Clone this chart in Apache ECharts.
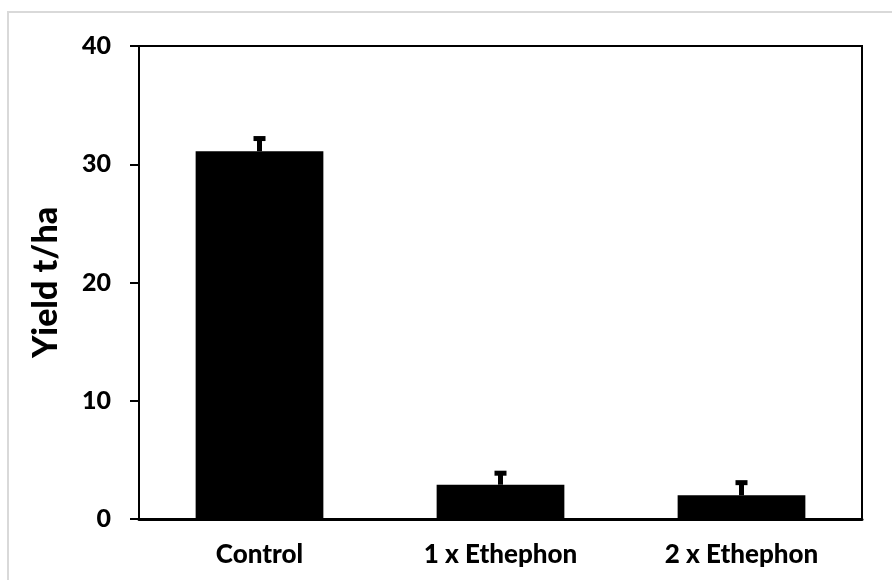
<!DOCTYPE html>
<html>
<head>
<meta charset="utf-8">
<script src="https://cdn.jsdelivr.net/npm/echarts@6/dist/echarts.min.js"></script>
<style>html,body{margin:0;padding:0;background:#fff}#c{width:892px;height:580px}</style>
</head>
<body>
<div id="c"></div>
<script>
var categories = ['Control', '1 x Ethephon', '2 x Ethephon'];
var yieldValues = [31.1, 2.9, 2.0];
var yieldErrors = [1.2, 1.1, 1.2];
var yTicks = { min: 0, max: 40, interval: 10 };

var chart = echarts.init(document.getElementById('c'));
var errData = categories.map(function (c, i) { return [i, yieldValues[i], yieldValues[i] + yieldErrors[i]]; });
var FONT = 'Lato';
var W = 900;
chart.setOption({
  animation: false,
  graphic: [{
    type: 'rect', shape: { x: 8, y: 12, width: 1000, height: 700 },
    style: { fill: 'none', stroke: '#d9d9d9', lineWidth: 2 }, z: -10
  }],
  grid: { left: 139, right: 30, top: 46, bottom: 61, show: true, borderColor: '#000', borderWidth: 2, backgroundColor: 'transparent' },
  xAxis: {
    type: 'category', data: categories,
    axisLine: { lineStyle: { color: '#000', width: 3 } },
    axisTick: { show: false },
    axisLabel: { color: '#000', fontFamily: FONT, fontWeight: W, fontSize: 26, margin: 23 }
  },
  yAxis: {
    type: 'value', min: yTicks.min, max: yTicks.max, interval: yTicks.interval,
    name: 'Yield t/ha', nameLocation: 'middle', nameGap: 76,
    nameTextStyle: { color: '#000', fontFamily: FONT, fontWeight: W, fontSize: 34 },
    axisLine: { show: true, lineStyle: { color: '#000', width: 2 } },
    axisTick: { show: true, length: 9, lineStyle: { color: '#000', width: 2 } },
    splitLine: { show: false },
    axisLabel: { color: '#000', fontFamily: FONT, fontWeight: W, fontSize: 25, margin: 28 }
  },
  series: [{
    type: 'bar', data: yieldValues, barWidth: '53%',
    itemStyle: { color: '#000' }
  }, {
    type: 'custom', data: errData, z: 10,
    renderItem: function (params, api) {
      var x = api.value(0);
      var p0 = api.coord([x, api.value(1)]);
      var p1 = api.coord([x, api.value(2)]);
      return {
        type: 'group', children: [
          { type: 'rect', shape: { x: p0[0] - 2.5, y: p1[1], width: 5, height: p0[1] - p1[1] }, style: { fill: '#000' } },
          { type: 'rect', shape: { x: p0[0] - 6, y: p1[1] - 1, width: 12, height: 5 }, style: { fill: '#000' } }
        ]
      };
    }
  }]
});
</script>
</body>
</html>
